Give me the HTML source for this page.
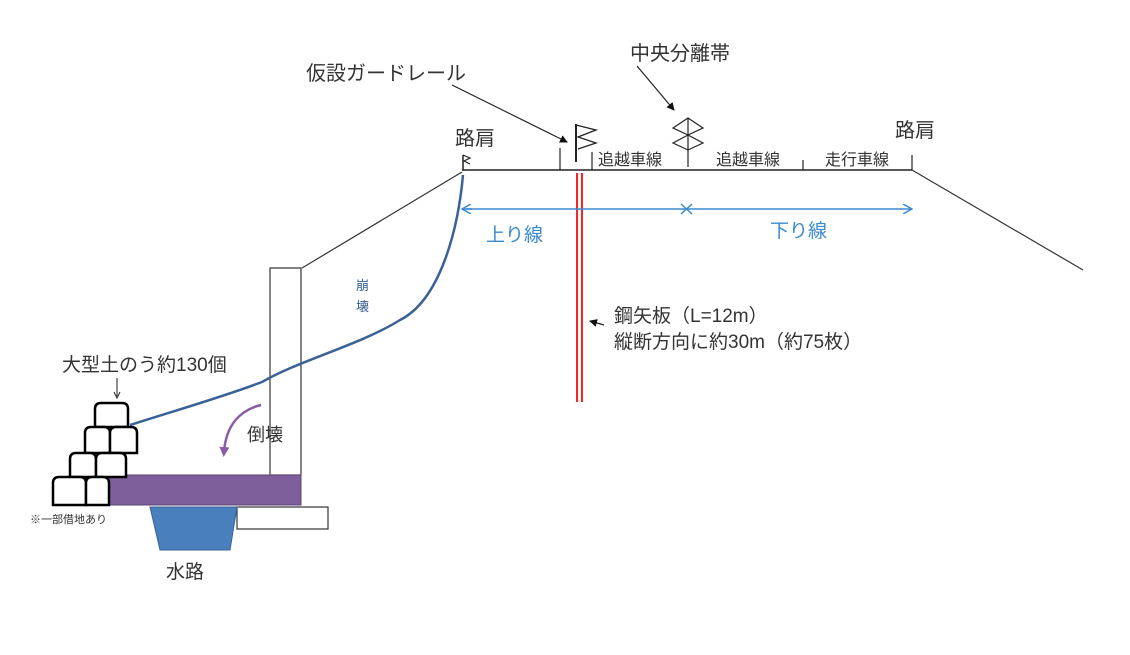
<!DOCTYPE html>
<html><head><meta charset="utf-8"><style>
body{margin:0;background:#fff}
svg{display:block}
text{font-family:"Liberation Sans","Noto Sans CJK JP",sans-serif;fill:#333}
</style></head><body>
<svg width="1130" height="655" viewBox="0 0 1130 655" xmlns="http://www.w3.org/2000/svg">
<defs>
<marker id="ah" markerWidth="8" markerHeight="8" refX="7" refY="4" orient="auto" markerUnits="userSpaceOnUse"><path d="M0,0 L8,4 L0,8z" fill="#111"/></marker>
<marker id="ba" markerWidth="10" markerHeight="10" refX="9" refY="5" orient="auto" markerUnits="userSpaceOnUse"><path d="M0,0 L9,5 L0,10" fill="none" stroke="#3a8ad0" stroke-width="1.5"/></marker>
<marker id="pa" markerWidth="10" markerHeight="10" refX="5" refY="5" orient="auto" markerUnits="userSpaceOnUse"><path d="M0,0 L10,5 L0,10z" fill="#8a5ca8"/></marker>
</defs>
<line x1="462" y1="170" x2="912" y2="170" stroke="#222" stroke-width="1.5"/>
<line x1="912" y1="170" x2="1083" y2="270" stroke="#333" stroke-width="1.2"/>
<line x1="462" y1="172" x2="302" y2="268" stroke="#333" stroke-width="1.2"/>
<line x1="560" y1="148" x2="560" y2="170" stroke="#222" stroke-width="1.2"/>
<line x1="592" y1="152" x2="592" y2="170" stroke="#222" stroke-width="1.2"/>
<line x1="803" y1="160" x2="803" y2="170" stroke="#222" stroke-width="1.2"/>
<line x1="912" y1="155" x2="912" y2="170" stroke="#222" stroke-width="1.2"/>
<line x1="576" y1="124" x2="576" y2="162" stroke="#222" stroke-width="2"/>
<path d="M576,125 L596,130 L578,137 L596,143 L578,149" fill="none" stroke="#222" stroke-width="1.3"/>
<line x1="688" y1="118" x2="688" y2="167" stroke="#222" stroke-width="1.2"/>
<path d="M688,118 L703,128 L688,135 L673,128z M688,135 L703,143 L688,150 L673,143z" fill="none" stroke="#222" stroke-width="1.2"/>
<line x1="463" y1="155" x2="463" y2="170" stroke="#222" stroke-width="1.5"/>
<path d="M463,155 L470,158 L464,161 L470,164" fill="none" stroke="#222" stroke-width="1.2"/>
<line x1="452" y1="85" x2="567" y2="142" stroke="#222" stroke-width="1.2" marker-end="url(#ah)"/>
<line x1="637" y1="66" x2="674" y2="110" stroke="#222" stroke-width="1.2" marker-end="url(#ah)"/>
<line x1="577" y1="173" x2="577" y2="402" stroke="#f22" stroke-width="2"/>
<line x1="582" y1="173" x2="582" y2="402" stroke="#f22" stroke-width="2"/>
<line x1="604" y1="325" x2="590" y2="321" stroke="#222" stroke-width="1.2" marker-end="url(#ah)"/>
<line x1="466" y1="209" x2="912" y2="209" stroke="#3a8ad0" stroke-width="1.5" marker-end="url(#ba)"/>
<line x1="472" y1="209" x2="462" y2="209" stroke="#3a8ad0" stroke-width="1.5" marker-end="url(#ba)"/>
<path d="M681,204 L692,214 M692,204 L681,214" stroke="#3a8ad0" stroke-width="1.5"/>
<rect x="270" y="268" width="31" height="207" fill="#fff" stroke="#333" stroke-width="1.2"/>
<path d="M463,175 C458,230 440,300 400,320 C360,345 300,360 262,382 C220,398 170,412 130,425" fill="none" stroke="#3a6296" stroke-width="2.5"/>
<rect x="237" y="507" width="91" height="22" fill="#fff" stroke="#333" stroke-width="1.2"/>
<path d="M150,507 L237,507 L230,550 L160,550z" fill="#4a7fbd" stroke="#3a6296" stroke-width="1"/>
<rect x="109" y="475" width="192" height="30" fill="#7e5f9c" stroke="#5c4477" stroke-width="1"/>
<g fill="#fff" stroke="#000" stroke-width="2.5">
<path d="M95,427 L95,409 Q95,403 101,403 L122,403 Q128,403 128,409 L128,427z"/>
<path d="M85,453 L85,433 Q85,427 91,427 L104,427 Q110,427 110,433 L110,453z"/>
<path d="M110,453 L110,433 Q110,427 116,427 L131,427 Q137,427 137,433 L137,453z"/>
<path d="M70,477 L70,459 Q70,453 76,453 L90,453 Q96,453 96,459 L96,477z"/>
<path d="M96,477 L96,459 Q96,453 102,453 L120,453 Q126,453 126,459 L126,477z"/>
<path d="M53,505 L53,483 Q53,477 59,477 L80,477 Q86,477 86,483 L86,505z"/>
<path d="M86,505 L86,483 Q86,477 92,477 L103,477 Q109,477 109,483 L109,505z"/>
</g>
<line x1="117" y1="378" x2="117" y2="396" stroke="#222" stroke-width="1"/>
<path d="M114,392 L117,398 L120,392" fill="none" stroke="#222" stroke-width="1"/>
<path d="M261,405 C240,410 226,425 224,452" fill="none" stroke="#8a5ca8" stroke-width="2.5" marker-end="url(#pa)"/>
<text x="306" y="80" font-size="20">仮設ガードレール</text>
<text x="630" y="60" font-size="20">中央分離帯</text>
<text x="455" y="145" font-size="20">路肩</text>
<text x="895" y="137" font-size="20">路肩</text>
<text x="598" y="165" font-size="16">追越車線</text>
<text x="716" y="165" font-size="16">追越車線</text>
<text x="825" y="165" font-size="16">走行車線</text>
<text x="486" y="241" font-size="19" style="fill:#3a8ad0">上り線</text>
<text x="770" y="237" font-size="19" style="fill:#3a8ad0">下り線</text>
<text x="356" y="290" font-size="13" style="fill:#3a6296">崩</text>
<text x="356" y="311" font-size="13" style="fill:#3a6296">壊</text>
<text x="614" y="322" font-size="19">鋼矢板（L=12m）</text>
<text x="614" y="348" font-size="19">縦断方向に約30m（約75枚）</text>
<text x="62" y="371" font-size="19">大型土のう約130個</text>
<text x="247" y="441" font-size="18">倒壊</text>
<text x="30" y="523" font-size="11">※一部借地あり</text>
<text x="166" y="578" font-size="19">水路</text>
</svg>
</body></html>
